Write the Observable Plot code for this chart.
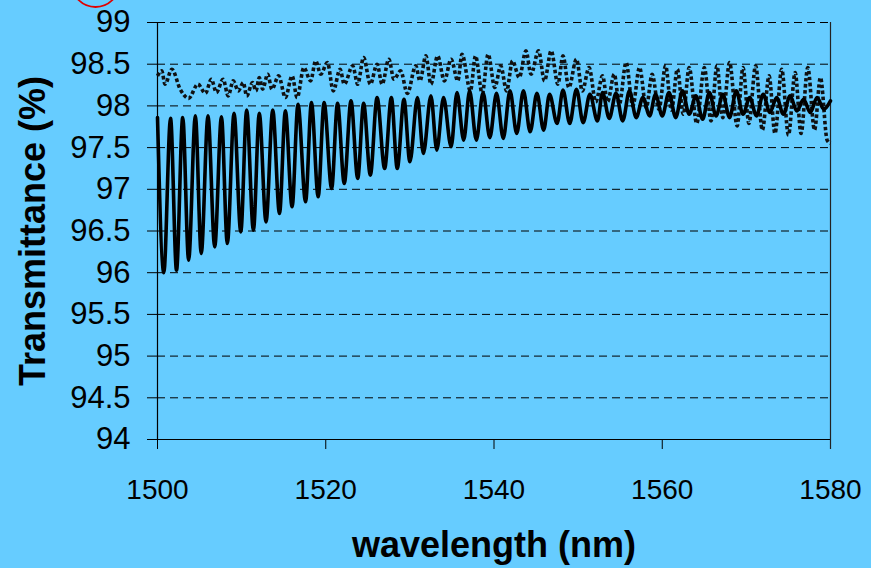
<!DOCTYPE html>
<html>
<head>
<meta charset="utf-8">
<script src="https://cdn.jsdelivr.net/npm/d3@7"></script>
<script src="https://cdn.jsdelivr.net/npm/@observablehq/plot@0.6"></script>
<style>
  html, body { margin: 0; padding: 0; background: #66CCFF; }
  #chart { width: 871px; height: 568px; overflow: hidden; }
</style>
</head>
<body>
<div id="chart"></div>
<script>
// Tick labels
const xTicks = [1500, 1520, 1540, 1560, 1580];
const yTicks = [94, 94.5, 95, 95.5, 96, 96.5, 97, 97.5, 98, 98.5, 99];

// Solid series: turning points (wavelength nm, transmittance %)
const solidWavelength = [
  1500.0, 1500.75, 1501.55, 1502.26, 1503.0, 1503.7, 1504.5, 1505.2, 1506.0, 1506.8,
  1507.6, 1508.3, 1509.1, 1509.9, 1510.6, 1511.4, 1512.1, 1512.9, 1513.7, 1514.5,
  1515.2, 1516.0, 1516.7, 1517.6, 1518.3, 1519.1, 1519.8, 1520.7, 1521.4, 1522.2,
  1523.0, 1523.8, 1524.5, 1525.3, 1526.1, 1527.0, 1527.8, 1528.5, 1529.3, 1530.0,
  1530.9, 1531.6, 1532.5, 1533.2, 1534.0, 1534.9, 1535.6, 1536.4, 1537.1, 1537.9,
  1538.7, 1539.5, 1540.3, 1541.1, 1541.9, 1542.7, 1543.5, 1544.3, 1545.1, 1545.9,
  1546.6, 1547.5, 1548.2, 1549.0, 1549.8, 1550.6, 1551.4, 1552.3, 1552.9, 1553.7,
  1554.5, 1555.3, 1556.1, 1556.9, 1557.7, 1558.5, 1559.2, 1560.0, 1560.8, 1561.6,
  1562.4, 1563.2, 1564.0, 1564.8, 1565.6, 1566.4, 1567.2, 1568.0, 1568.8, 1569.6,
  1570.4, 1571.2, 1572.0, 1572.8, 1573.6, 1574.4, 1575.2, 1576.0, 1576.8, 1577.6,
  1578.4, 1579.2, 1580.0
];
const solidT = [
  97.86, 96.00, 97.85, 96.03, 97.86, 96.15, 97.88, 96.23, 97.88, 96.31,
  97.87, 96.35, 97.91, 96.49, 97.95, 96.51, 97.91, 96.61, 97.95, 96.71,
  97.94, 96.79, 98.02, 96.85, 98.04, 96.91, 98.04, 97.01, 98.03, 97.07,
  98.06, 97.13, 98.03, 97.17, 98.10, 97.25, 98.10, 97.25, 98.08, 97.33,
  98.10, 97.43, 98.12, 97.47, 98.10, 97.51, 98.16, 97.59, 98.18, 97.59,
  98.16, 97.62, 98.15, 97.61, 98.18, 97.67, 98.18, 97.69, 98.15, 97.71,
  98.14, 97.79, 98.19, 97.79, 98.20, 97.80, 98.14, 97.82, 98.16, 97.85,
  98.15, 97.82, 98.18, 97.86, 98.10, 97.88, 98.14, 97.88, 98.16, 97.86,
  98.18, 97.90, 98.12, 97.84, 98.16, 97.88, 98.14, 97.86, 98.18, 97.90,
  98.10, 97.88, 98.14, 97.92, 98.10, 97.90, 98.12, 97.94, 98.08, 97.92,
  98.10, 97.96, 98.06
];

// Dotted series: turning points
const dottedWavelength = [
  1500.0, 1500.5, 1500.9, 1501.7, 1502.7, 1503.7, 1504.8, 1505.7, 1506.4, 1507.0,
  1507.8, 1508.4, 1509.0, 1509.6, 1510.2, 1510.6, 1511.3, 1511.7, 1512.1, 1512.5,
  1513.1, 1513.6, 1514.4, 1515.2, 1516.0, 1516.6, 1517.4, 1518.2, 1518.8, 1519.4,
  1520.2, 1520.9, 1521.7, 1522.2, 1523.2, 1523.8, 1524.5, 1525.3, 1526.1, 1526.7,
  1527.5, 1528.1, 1528.9, 1529.7, 1530.7, 1531.2, 1531.9, 1532.5, 1533.3, 1534.1,
  1534.9, 1535.7, 1536.2, 1537.2, 1537.8, 1538.6, 1539.3, 1540.1, 1540.8, 1541.5,
  1542.2, 1543.0, 1543.8, 1544.4, 1545.3, 1546.0, 1546.8, 1547.6, 1548.2, 1548.9,
  1549.8, 1550.5, 1551.3, 1552.1, 1552.9, 1553.5, 1554.3, 1554.9, 1555.7, 1556.5,
  1557.3, 1558.1, 1558.8, 1559.6, 1560.4, 1561.1, 1561.8, 1562.5, 1563.2, 1564.1,
  1565.0, 1565.8, 1566.5, 1567.2, 1568.0, 1568.9, 1569.6, 1570.3, 1571.1, 1571.9,
  1572.7, 1573.4, 1574.2, 1575.0, 1575.8, 1576.5, 1577.3, 1578.1, 1578.8, 1579.6,
  1580.0
];
const dottedT = [
  98.36, 98.42, 98.26, 98.44, 98.20, 98.09, 98.26, 98.15, 98.32, 98.16,
  98.32, 98.12, 98.30, 98.18, 98.28, 98.12, 98.28, 98.18, 98.34, 98.20,
  98.38, 98.20, 98.36, 98.10, 98.36, 98.10, 98.46, 98.30, 98.54, 98.38,
  98.52, 98.18, 98.44, 98.26, 98.48, 98.26, 98.58, 98.26, 98.50, 98.26,
  98.56, 98.32, 98.42, 98.15, 98.48, 98.30, 98.60, 98.26, 98.60, 98.30,
  98.56, 98.30, 98.62, 98.18, 98.60, 98.15, 98.62, 98.22, 98.48, 98.18,
  98.54, 98.34, 98.66, 98.38, 98.66, 98.30, 98.66, 98.26, 98.60, 98.22,
  98.56, 98.18, 98.46, 98.05, 98.36, 98.05, 98.38, 98.02, 98.52, 98.00,
  98.46, 97.98, 98.38, 97.96, 98.48, 97.95, 98.44, 97.90, 98.46, 97.79,
  98.46, 97.82, 98.48, 97.86, 98.52, 97.76, 98.46, 97.79, 98.48, 97.71,
  98.36, 97.67, 98.44, 97.65, 98.40, 97.67, 98.46, 97.71, 98.34, 97.59,
  97.55
];

const xTitle = "wavelength (nm)";
const yTitle = "Transmittance (%)";

const solid = solidWavelength.map((w, i) => ({w, t: solidT[i]}));
const dotted = dottedWavelength.map((w, i) => ({w, t: dottedT[i]}));

const font = "'Liberation Sans', Arial, sans-serif";

const chart = Plot.plot({
  width: 871,
  height: 568,
  marginLeft: 157,
  marginRight: 41,
  marginTop: 22,
  marginBottom: 129,
  style: {background: "#66CCFF", fontFamily: font, fontSize: "28px", color: "black", overflow: "hidden"},
  x: {domain: [1500, 1580]},
  y: {domain: [94, 99]},
  marks: [
    Plot.gridY(yTicks.filter(d => d > 94), {stroke: "black", strokeOpacity: 1, strokeWidth: 1, strokeDasharray: "8,5"}),
    Plot.axisY(yTicks, {tickSize: 10, tickPadding: 17, tickFormat: d => String(d), label: null, fontSize: 31, stroke: "black"}),
    Plot.axisX(xTicks, {tickSize: 10, tickPadding: 30, tickFormat: d => String(d), label: null, fontSize: 28, stroke: "black"}),
    Plot.ruleY([94], {stroke: "black", strokeWidth: 1.2}),
    Plot.ruleX([1500], {stroke: "black", strokeWidth: 1.2}),
    Plot.ruleX([1580], {y1: 99, y2: 93.88, stroke: "#222", strokeWidth: 1.2}),
    Plot.line(dotted, {x: "w", y: "t", curve: "monotone-x", stroke: "#111", strokeWidth: 3.6, strokeDasharray: "3.5,2.5", strokeLinecap: "butt", strokeLinejoin: "miter"}),
    Plot.line(solid, {x: "w", y: "t", curve: "monotone-x", stroke: "#000", strokeWidth: 3.6}),
    Plot.text([yTitle], {text: d => d, frameAnchor: "left", textAnchor: "middle", lineAnchor: "middle", dx: -124, rotate: -90, fontWeight: "bold", fontSize: 36, fill: "black"}),
    Plot.text([xTitle], {text: d => d, frameAnchor: "bottom", textAnchor: "middle", lineAnchor: "middle", dy: 106, fontWeight: "bold", fontSize: 36, fill: "black"})
  ]
});

d3.select(chart).append("circle")
  .attr("cx", 95.5).attr("cy", -17).attr("r", 24)
  .attr("fill", "none").attr("stroke", "#E00000").attr("stroke-width", 1.8);

document.getElementById("chart").appendChild(chart);
</script>
</body>
</html>
